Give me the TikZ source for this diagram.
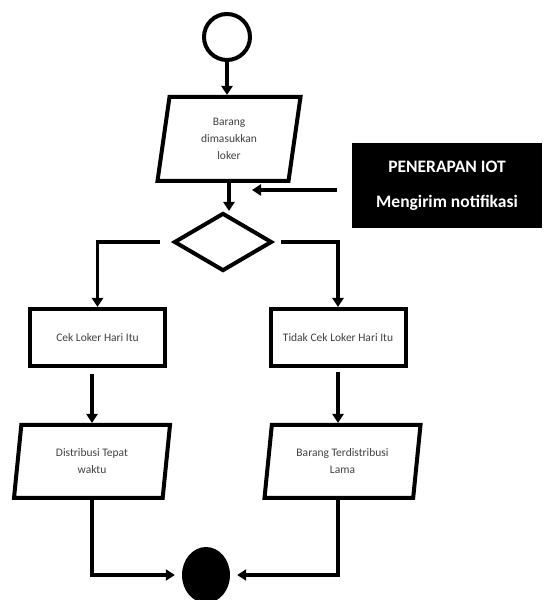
\documentclass[tikz,border=0pt]{standalone}
\usepackage{fontspec}
\setmainfont{Carlito}
\usetikzlibrary{shapes.geometric,arrows.meta}

\begin{document}
\begin{tikzpicture}[x=1pt,y=1pt,
	arr/.style={line width=3.5pt,-{Triangle[length=9pt,width=11pt]}},
	io/.style={trapezium,trapezium stretches body,draw,line width=4pt,align=center,
		text=black!75,font=\fontsize{11.5}{17}\selectfont},
	proc/.style={rectangle,draw,line width=4pt,minimum width=135pt,minimum height=57pt,
		text=black!75,font=\fontsize{11.5}{17}\selectfont}]
	\useasboundingbox (0,0) rectangle (544,600);
	
	\node[circle,draw,line width=4pt,minimum size=46pt] (start) at (227,563) {};
	\node[io,trapezium left angle=76,trapezium right angle=104,minimum width=143pt,minimum height=84pt] (in) at (229,461) {Barang\\dimasukkan\\loker};
	\node[diamond,draw,line width=4pt,minimum width=98pt,minimum height=58pt,inner sep=0pt] (cek) at (223,358) {};
	
	\node[fill=black,minimum width=190pt,minimum height=85pt,text=white,align=center,
		font=\fontsize{17.5}{35}\selectfont\bfseries] (iot) at (447,414.5) {PENERAPAN IOT\\Mengirim notifikasi};
	\coordinate (notif) at (252,410);
	
	%-------------------------------------
	\node[proc] (ya) at (97.5,262.5) {Cek Loker Hari Itu};
	\node[proc] (tidak) at (338,262.5) {Tidak Cek Loker Hari Itu};
	
	\node[io,trapezium left angle=77,trapezium right angle=103,minimum width=156pt,minimum height=73pt] (tepat) at (92,138.5) {Distribusi Tepat\\waktu};
	\node[io,trapezium left angle=77,trapezium right angle=103,minimum width=156pt,minimum height=73pt] (lama) at (342.5,138.5) {Barang Terdistribusi\\Lama};
	
	\node[ellipse,fill=black,minimum width=48pt,minimum height=56pt] (stop) at (206,25) {};
	
	%-------------------------------------
	\draw[arr] (start) -- (start |- in.north);
	\draw[arr] (in.south) -- (in.south |- cek.north);
	\draw[arr] ([xshift=-15pt]iot.west |- notif) -- (notif);
	
	\draw[arr] ([xshift=-12pt]cek.west) -| (ya.north);
	\draw[arr] ([xshift=7pt]cek.east) -| (tidak.north);
	
	\draw[arr] ([yshift=-6pt]tepat.north |- ya.south) -- (tepat.north);
	\draw[arr] ([yshift=-4pt]tidak.south) -- (tidak.south |- lama.north);
	
	\draw[arr] (tepat.south) |- ([xshift=-7pt]stop.west);
	\draw[arr] (lama.south -| tidak.south) |- ([xshift=7pt]stop.east);
	
\end{tikzpicture}
\end{document}
